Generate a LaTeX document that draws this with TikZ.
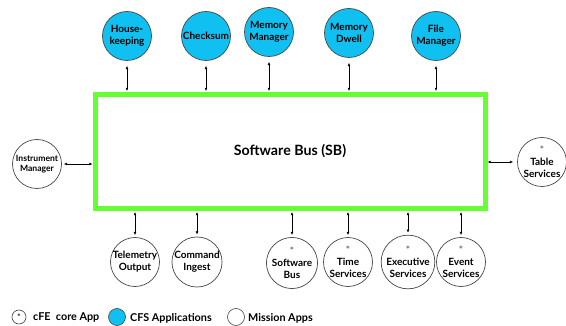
\documentclass[tikz,border=0pt]{standalone}
\usepackage{fontspec}
\setmainfont{Lato}
\usetikzlibrary{arrows.meta}
\definecolor{appcyan}{RGB}{16,192,240}
\definecolor{busgreen}{RGB}{102,255,51}
\definecolor{rimgray}{RGB}{70,70,70}
\definecolor{stargray}{RGB}{110,110,110}
\tikzset{
  app/.style={circle, draw=rimgray, line width=0.7pt, minimum size=49pt, inner sep=0pt,
    align=center, font=\fontsize{10}{12}\selectfont\bfseries},
  cfsapp/.style={app, fill=appcyan},
  misapp/.style={app, fill=white},
  busbox/.style={draw=busgreen, line width=5pt, minimum width=390pt, minimum height=114pt,
    font=\fontsize{14.2}{16}\selectfont\bfseries},
  link/.style={line width=0.6pt, {Latex[length=3.2pt,width=2.8pt]}-{Latex[length=3.2pt,width=2.8pt]}},
  legtext/.style={anchor=west, inner sep=0pt, font=\fontsize{10.8}{12}\selectfont\bfseries},
  legcirc/.style={circle, draw=rimgray, line width=0.6pt, minimum size=17pt, inner sep=0pt}
}
\newcommand{\coremark}{{\color{stargray}\fontsize{10}{7}\selectfont *}}
\begin{document}
\begin{tikzpicture}[x=1pt,y=-1pt]
  \useasboundingbox (0,0) rectangle (566,326);

  % central software bus
  \node[busbox] (sb) at (290,151.5) {Software Bus (SB)};

  % CFS applications along the top
  \node[cfsapp] (hk) at (127,36) {House-\\keeping};
  \node[cfsapp] (cs) at (206,36) {Checksum};
  \node[cfsapp] (mm) at (269,32) {Memory\\Manager};
  \node[cfsapp] (md) at (349,33) {Memory\\Dwell};
  \node[cfsapp] (fm) at (436,36) {File\\Manager};

  % side applications
  \node[misapp, font=\fontsize{8.6}{10.5}\selectfont\bfseries] (im) at (37,164) {Instrument\\Manager};
  \node[misapp] (ts) at (542,162) {\coremark\\Table\\Services};

  % mission and core applications along the bottom
  \node[misapp] (to) at (135,262) {Telemetry\\Output};
  \node[misapp] (ci) at (197,262) {Command\\Ingest};
  \node[misapp] (sw) at (292,263) {\coremark\\Software\\Bus};
  \node[misapp] (tm) at (348,262) {\coremark\\Time\\Services};
  \node[misapp] (ex) at (408,262) {\coremark\\Executive\\Services};
  \node[misapp] (ev) at (461,262) {\coremark\\Event\\Services};

  % connectors to the bus
  \foreach \n in {hk,cs,mm,md,fm}
    \draw[link, shorten <=5pt, shorten >=1pt] (\n.south) -- (\n.south |- sb.north);
  \foreach \n in {to,ci,sw,tm,ex,ev}
    \draw[link, shorten <=1pt, shorten >=2pt] (\n.north |- sb.south) -- (\n.north);
  \draw[link, shorten <=2pt, shorten >=0pt] (im.east) -- (im.east -| sb.west);
  \draw[link, shorten <=0pt, shorten >=4pt] (ts.west -| sb.east) -- (ts.west);

  % legend
  \node[legcirc, minimum size=14pt] (lg1) at (19,317) {\fontsize{9}{9}\selectfont *};
  \node[legtext] (lt1) at (33,318) {cFE\ \ core App};
  \node[legcirc, fill=appcyan] (lg2) at (117,317) {};
  \node[legtext] (lt2) at (130,318) {CFS Applications};
  \node[legcirc, fill=white] (lg3) at (236,317) {};
  \node[legtext] (lt3) at (248,318) {Mission Apps};
\end{tikzpicture}
\end{document}
